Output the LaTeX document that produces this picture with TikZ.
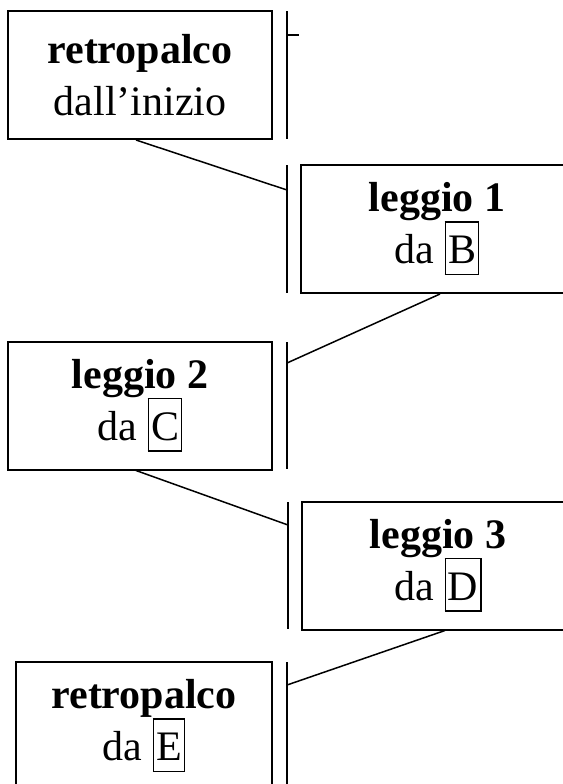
\documentclass[tikz,border=0pt]{standalone}
\usepackage{fontspec}
\setmainfont{Liberation Serif}
\usetikzlibrary{positioning}
\newcommand{\cue}[1]{{\setlength{\fboxsep}{1pt}\setlength{\fboxrule}{0.7pt}\fbox{\rule[-4pt]{0pt}{23.5pt}#1}}}

\begin{document}
\begin{tikzpicture}[x=0.5pt, y=-0.5pt,
		standbox/.style={draw, line width=1pt, minimum width=132pt, minimum height=64pt, inner sep=0pt, align=center, font=\fontsize{21}{26}\selectfont},
		cuebar/.style={line width=1pt},
		link/.style={line width=0.75pt}]
		%%%%% START %%%%%
		
		\useasboundingbox (0,0) rectangle (563,784);
		\clip (0,0) rectangle (563,784);
		
		\node[standbox] (retro) at (140,75) {\textbf{retropalco}\\dall'inizio};
		\node[standbox, minimum width=136pt] (leggioA) at (437,229) {\textbf{leggio 1}\\da \cue{B}};
		\node[standbox] (leggioB) at (140,405.5) {\textbf{leggio 2}\\da \cue{C}};
		\node[standbox, minimum width=136pt] (leggioC) at (438,565.5) {\textbf{leggio 3}\\da \cue{D}};
		\node[standbox, minimum width=128pt] (retroend) at (144,726) {\textbf{retropalco}\\da \cue{E}};
		
		\draw[cuebar] (287,11) -- (287,139);
		\draw[cuebar] (287,35) -- (299,35);
		\draw[cuebar] (287,165) -- (287,293);
		\draw[cuebar] (287,342) -- (287,469);
		\draw[cuebar] (288,502) -- (288,629);
		\draw[cuebar] (287,662) -- (287,800);
		
		\coordinate (joinA) at (287,190);
		\coordinate (joinB) at (287,363);
		\coordinate (joinC) at (288,525);
		\coordinate (joinD) at (287,685);
		
		\draw[link] ([xshift=-2pt]retro.south) -- (joinA);
		\draw[link] ([xshift=1.5pt]leggioA.south) -- (joinB);
		\draw[link] ([xshift=-2pt]leggioB.south) -- (joinC);
		\draw[link] ([xshift=3.5pt]leggioC.south) -- (joinD);
		
		%%%%% END %%%%%
	\end{tikzpicture}
\end{document}
